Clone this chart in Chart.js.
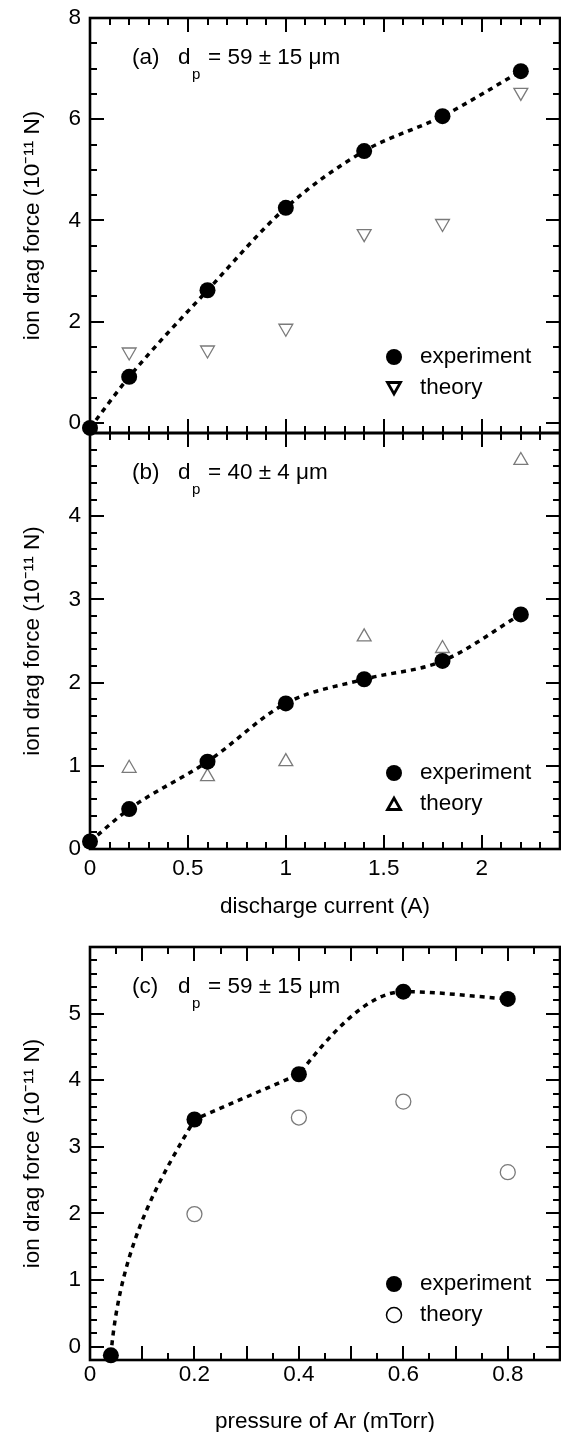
<!DOCTYPE html>
<html>
<head>
<meta charset="utf-8">
<script src="https://cdn.jsdelivr.net/npm/chart.js@4.4.0/dist/chart.umd.min.js"></script>
<style>
  body { margin: 0; background: #fff; }
  #wrap { position: relative; width: 561px; height: 1432px; overflow: hidden; }
  canvas { position: absolute; left: 0; }
</style>
</head>
<body>
<div id="wrap">
  <canvas id="chartA" width="561" height="440" style="top:0px"></canvas>
  <canvas id="chartB" width="561" height="507" style="top:420px"></canvas>
  <canvas id="chartC" width="561" height="506" style="top:930px"></canvas>
</div>
<script>
// panel (a): discharge current vs ion drag force, d_p = 59 um
const currentA = [0, 0.2, 0.6, 1.0, 1.4, 1.8, 2.2];
const experimentA = [-0.1, 0.91, 2.62, 4.25, 5.37, 6.06, 6.95];
const theoryCurrentA = [0.2, 0.6, 1.0, 1.4, 1.8, 2.2];
const theoryA = [1.40, 1.44, 1.87, 3.74, 3.94, 6.53];

// panel (b): d_p = 40 um
const currentB = [0, 0.2, 0.6, 1.0, 1.4, 1.8, 2.2];
const experimentB = [0.09, 0.48, 1.05, 1.75, 2.04, 2.26, 2.82];
const theoryCurrentB = [0.2, 0.6, 1.0, 1.4, 1.8, 2.2];
const theoryB = [0.97, 0.87, 1.05, 2.55, 2.41, 4.67];

// panel (c): pressure of Ar
const pressureC = [0.04, 0.2, 0.4, 0.6, 0.8];
const experimentC = [-0.13, 3.41, 4.09, 5.33, 5.22];
const theoryPressureC = [0.2, 0.4, 0.6, 0.8];
const theoryC = [1.99, 3.44, 3.68, 2.62];

// tick labels
const yTicksA = [0, 2, 4, 6, 8];
const yTicksB = [0, 1, 2, 3, 4];
const xTicksAB = [0, 0.5, 1, 1.5, 2];
const yTicksC = [0, 1, 2, 3, 4, 5];
const xTicksC = [0, 0.2, 0.4, 0.6, 0.8];

const FONT = "'Liberation Sans', Arial, sans-serif";
const FS = 22.5;
Chart.defaults.font.family = FONT;
Chart.defaults.color = '#000';

function toPoints(xs, ys) {
  return xs.map((x, i) => ({ x: x, y: ys[i] }));
}

function steps(from, to, step) {
  const out = [];
  const n = Math.round((to - from) / step);
  for (let i = 0; i <= n; i++) out.push(+(from + i * step).toFixed(4));
  return out;
}

function isMajor(v, step) {
  const r = v / step;
  return Math.abs(r - Math.round(r)) < 1e-6;
}

// frame box with inward ticks on all four sides, plus panel label and legend
const panelDeco = {
  id: 'panelDeco',
  beforeDatasetsDraw(chart, args, o) {
    const { ctx, chartArea: a } = chart;
    const xs = chart.scales.x, ys = chart.scales.y;
    ctx.save();
    ctx.strokeStyle = '#000';
    ctx.lineWidth = 2;
    ctx.beginPath();
    steps(o.xFrom, o.xTo, o.xMinor).forEach(v => {
      const px = Math.round(xs.getPixelForValue(v));
      const len = isMajor(v, o.xMajor) ? 14 : 7;
      ctx.moveTo(px, a.top); ctx.lineTo(px, a.top + len);
      ctx.moveTo(px, a.bottom); ctx.lineTo(px, a.bottom - len);
    });
    steps(o.yFrom, o.yTo, o.yMinor).forEach(v => {
      const py = Math.round(ys.getPixelForValue(v));
      const len = isMajor(v, o.yMajor) ? 14 : 7;
      ctx.moveTo(a.left, py); ctx.lineTo(a.left + len, py);
      ctx.moveTo(a.right, py); ctx.lineTo(a.right - len, py);
    });
    ctx.stroke();
    ctx.lineWidth = 2.6;
    ctx.strokeRect(a.left, a.top, a.right - a.left, a.bottom - a.top);
    ctx.restore();
  },
  beforeDatasetDraw(chart, args, o) {
    // reshape some pieces of the dotted guide line (control points given as
    // fractions of each piece's own span)
    if (args.index !== 0 || !o.pieces) return;
    const line = args.meta.dataset;
    const pts = args.meta.data;
    line.updateControlPoints(chart.chartArea, 'x');
    o.pieces.forEach(s => {
      const p = pts[s.i], q = pts[s.i + 1];
      const dx = q.x - p.x, dy = q.y - p.y;
      p.cp2x = p.x + s.out[0] * dx; p.cp2y = p.y + s.out[1] * dy;
      q.cp1x = q.x - s.in[0] * dx; q.cp1y = q.y - s.in[1] * dy;
    });
    line._path = undefined;
  },
  afterDatasetsDraw(chart, args, o) {
    const { ctx, chartArea: a } = chart;
    ctx.save();
    ctx.fillStyle = '#000';
    ctx.textBaseline = 'middle';
    ctx.textAlign = 'left';
    // panel label: (a)   d_p = 59 ± 15 μm
    const ty = a.top + 40;
    ctx.font = FS + 'px ' + FONT;
    ctx.fillText(o.tag, a.left + 42, ty);
    ctx.fillText('d', a.left + 88, ty);
    ctx.fillText(o.size, a.left + 118, ty);
    ctx.font = '15px ' + FONT;
    ctx.fillText('p', a.left + 102, ty + 17);

    // legend
    const mx = a.right - 166, tx = a.right - 140;
    const r1 = a.bottom - 76, r2 = a.bottom - 45;
    ctx.beginPath();
    ctx.arc(mx, r1, 8, 0, Math.PI * 2);
    ctx.fill();
    ctx.strokeStyle = '#000';
    ctx.beginPath();
    if (o.marker === 'circle') {
      ctx.lineWidth = 1.5;
      ctx.arc(mx, r2, 7.5, 0, Math.PI * 2);
    } else {
      ctx.lineWidth = 2.8;
      const s = o.marker === 'down' ? 1 : -1;
      ctx.moveTo(mx - 6.5, r2 - 5.5 * s);
      ctx.lineTo(mx + 6.5, r2 - 5.5 * s);
      ctx.lineTo(mx, r2 + 6 * s);
      ctx.closePath();
    }
    ctx.stroke();
    ctx.font = FS + 'px ' + FONT;
    ctx.fillText('experiment', tx, r1);
    ctx.fillText('theory', tx, r2);
    ctx.restore();
  }
};

function buildPanel(id, p) {
  return new Chart(document.getElementById(id), {
    type: 'scatter',
    data: {
      datasets: [{
        label: 'experiment',
        data: toPoints(p.x, p.exp),
        showLine: true,
        borderColor: '#000',
        borderWidth: 3.5,
        borderDash: [5, 5],
        cubicInterpolationMode: 'monotone',
        pointRadius: 8,
        pointBackgroundColor: '#000',
        pointBorderColor: '#000',
        pointBorderWidth: 0,
        clip: false,
        order: 1
      }, {
        label: 'theory',
        data: toPoints(p.tx, p.theory),
        showLine: false,
        pointStyle: p.pointStyle,
        rotation: p.rotation,
        pointRadius: p.pointStyle === 'circle' ? 7.5 : 8,
        pointBackgroundColor: 'rgba(0,0,0,0)',
        pointBorderColor: '#7a7a7a',
        pointBorderWidth: 1.3,
        clip: false,
        order: 2
      }]
    },
    options: {
      responsive: false,
      animation: false,
      layout: { autoPadding: false, padding: { left: 0, right: 1, top: p.padTop, bottom: p.padBottom } },
      scales: {
        x: {
          type: 'linear',
          min: p.xMin,
          max: p.xMax,
          grid: { display: false, drawTicks: false },
          border: { display: false },
          ticks: { display: p.showX, padding: p.xPad, font: { size: FS }, color: '#000', callback: v => String(v) },
          afterBuildTicks: s => { s.ticks = p.xTicks.map(v => ({ value: v })); },
          title: { display: !!p.xTitle, text: p.xTitle || '', font: { size: FS }, color: '#000', padding: { top: 0, bottom: p.xTitlePad || 0 } },
          afterFit: s => { s.height = p.xHeight; s.paddingLeft = 0; s.paddingRight = 0; }
        },
        y: {
          type: 'linear',
          min: p.yMin,
          max: p.yMax,
          grid: { display: false, drawTicks: false },
          border: { display: false },
          ticks: { padding: 9, font: { size: FS }, color: '#000', callback: v => String(v) },
          afterBuildTicks: s => { s.ticks = p.yTicks.map(v => ({ value: v })); },
          title: { display: true, text: 'ion drag force (10\u207B\u00B9\u00B9 N)', font: { size: FS }, color: '#000', padding: { top: 19, bottom: 0 } },
          afterFit: s => { s.width = 90; s.paddingTop = 0; s.paddingBottom = 0; }
        }
      },
      plugins: {
        legend: { display: false },
        tooltip: { enabled: false },
        panelDeco: p.deco
      }
    },
    plugins: [panelDeco]
  });
}

buildPanel('chartA', {
  x: currentA, exp: experimentA, tx: theoryCurrentA, theory: theoryA,
  pointStyle: 'triangle', rotation: 180,
  xMin: 0, xMax: 2.4, yMin: -0.2, yMax: 8,
  xTicks: xTicksAB, yTicks: yTicksA, showX: false, xPad: 6,
  padTop: 18, padBottom: 7, xHeight: 0,
  deco: { tag: '(a)', size: '= 59 \u00B1 15 \u03BCm', marker: 'down',
    xFrom: 0, xTo: 2.4, xMinor: 0.1, xMajor: 0.5,
    yFrom: 0, yTo: 8, yMinor: 0.5, yMajor: 2 }
});

buildPanel('chartB', {
  x: currentB, exp: experimentB, tx: theoryCurrentB, theory: theoryB,
  pointStyle: 'triangle', rotation: 0,
  xMin: 0, xMax: 2.4, yMin: 0, yMax: 5,
  xTicks: xTicksAB, yTicks: yTicksB, showX: true, xPad: 6,
  xTitle: 'discharge current (A)', xTitlePad: 7,
  padTop: 13, padBottom: 0, xHeight: 78,
  deco: { tag: '(b)', size: '= 40 \u00B1 4 \u03BCm', marker: 'up',
    xFrom: 0, xTo: 2.4, xMinor: 0.1, xMajor: 0.5,
    yFrom: 0, yTo: 5, yMinor: 0.2, yMajor: 1 }
});

buildPanel('chartC', {
  x: pressureC, exp: experimentC, tx: theoryPressureC, theory: theoryC,
  pointStyle: 'circle', rotation: 0,
  xMin: 0, xMax: 0.9, yMin: -0.2, yMax: 6,
  xTicks: xTicksC, yTicks: yTicksC, showX: true, xPad: 1,
  xTitle: 'pressure of Ar (mTorr)', xTitlePad: 1,
  padTop: 17, padBottom: 0, xHeight: 76,
  deco: { tag: '(c)', size: '= 59 \u00B1 15 \u03BCm', marker: 'circle',
    pieces: [
      { i: 0, out: [0.12, 0.5], in: [0.35, 0.22] },
      { i: 1, out: [1 / 3, 1 / 3], in: [1 / 3, 1 / 3] },
      { i: 2, out: [0.28, 0.45], in: [0.35, 0] }
    ],
    xFrom: 0, xTo: 0.9, xMinor: 0.05, xMajor: 0.1,
    yFrom: 0, yTo: 6, yMinor: 0.2, yMajor: 1 }
});
</script>
</body>
</html>
